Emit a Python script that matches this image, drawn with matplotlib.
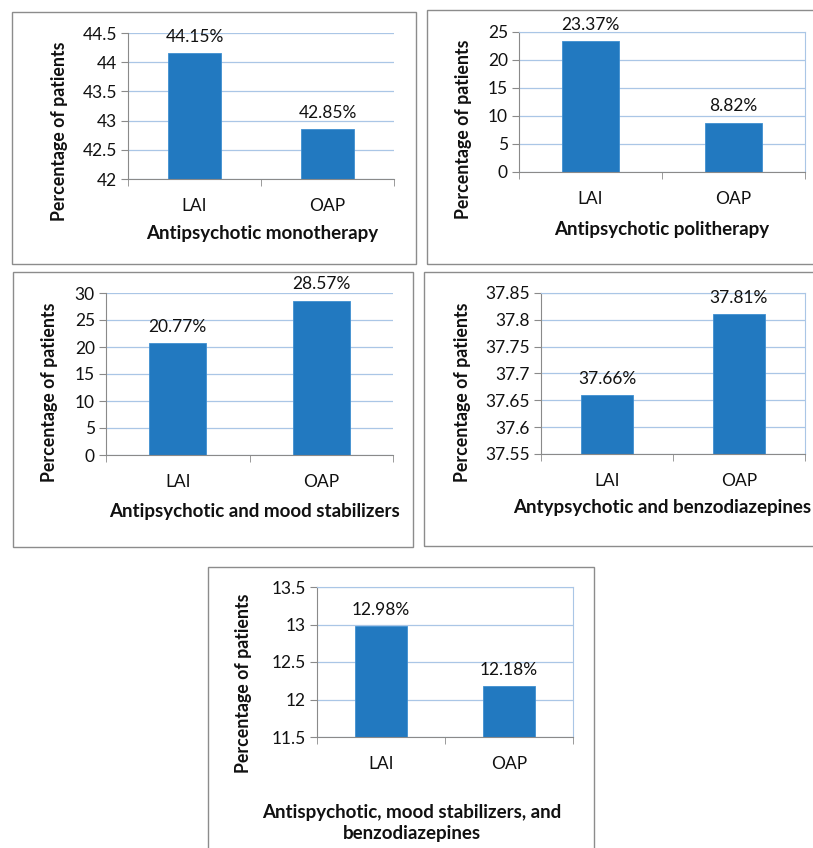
import matplotlib
matplotlib.use("Agg")
import matplotlib.pyplot as plt
from matplotlib.patches import Rectangle
import numpy as np

plt.rcParams['font.family'] = ['Lato', 'DejaVu Sans']

categories = ["LAI", "OAP"]

mono_vals = [44.15, 42.85]
poli_vals = [23.37, 8.82]
mood_vals = [20.77, 28.57]
benzo_vals = [37.66, 37.81]
all3_vals = [12.98, 12.18]

mono_ticks = [42, 42.5, 43, 43.5, 44, 44.5]
poli_ticks = [0, 5, 10, 15, 20, 25]
mood_ticks = [0, 5, 10, 15, 20, 25, 30]
benzo_ticks = [37.55, 37.6, 37.65, 37.7, 37.75, 37.8, 37.85]
all3_ticks = [11.5, 12, 12.5, 13, 13.5]

mono_ticklabels = ["42", "42.5", "43", "43.5", "44", "44.5"]
poli_ticklabels = ["0", "5", "10", "15", "20", "25"]
mood_ticklabels = ["0", "5", "10", "15", "20", "25", "30"]
benzo_ticklabels = ["37.55", "37.6", "37.65", "37.7", "37.75", "37.8", "37.85"]
all3_ticklabels = ["11.5", "12", "12.5", "13", "13.5"]

titles = ["Antipsychotic monotherapy", "Antipsychotic politherapy",
          "Antipsychotic and mood stabilizers", "Antypsychotic and benzodiazepines",
          "Antispychotic, mood stabilizers, and\nbenzodiazepines"]

W, H = 813, 848
fig = plt.figure(figsize=(W / 100, H / 100), dpi=100)

BAR = '#2279c0'
GRID = '#aac6e6'
AXC = '#8a8a8a'
TXT = '#111111'

def fx(x):
    return x / W

def fy(y):
    return 1 - y / H

# panel boxes (pixel coords: left, top, right, bottom)
boxes = [(12, 12, 416, 264), (427, 10, 830, 264), (13, 272, 413, 547),
         (424, 272, 830, 546), (208, 567, 594, 870)]
for l, t, r, b in boxes:
    fig.patches.append(Rectangle((fx(l), fy(b)), fx(r - l), (b - t) / H,
                                 transform=fig.transFigure, fill=False,
                                 edgecolor='#8c8c8c', linewidth=1.0))

panels = [
    dict(vals=mono_vals, ticks=mono_ticks, tl=mono_ticklabels, box=(128, 33, 394, 179),
         right=False, ylab=(60, 131), xlab=(262, 233)),
    dict(vals=poli_vals, ticks=poli_ticks, tl=poli_ticklabels, box=(519, 32, 805, 172),
         right=True, ylab=(463, 129), xlab=(662, 230)),
    dict(vals=mood_vals, ticks=mood_ticks, tl=mood_ticklabels, box=(106, 293, 393, 455),
         right=False, ylab=(50, 392), xlab=(254, 512)),
    dict(vals=benzo_vals, ticks=benzo_ticks, tl=benzo_ticklabels, box=(541, 293, 805, 454),
         right=True, ylab=(462, 392), xlab=(662, 507)),
    dict(vals=all3_vals, ticks=all3_ticks, tl=all3_ticklabels, box=(317, 587, 573, 737),
         right=True, ylab=(243, 683), xlab=(412, 823)),
]

for p, title in zip(panels, titles):
    l, t, r, b = p['box']
    ax = fig.add_axes([fx(l), fy(b), fx(r - l), (b - t) / H])
    x = np.arange(len(categories))
    ax.bar(x, p['vals'], width=0.4, color=BAR, edgecolor='#3f8fd0', linewidth=0.6, zorder=3)
    ax.set_xlim(-0.5, 1.5)
    ax.set_ylim(p['ticks'][0], p['ticks'][-1])
    ax.set_yticks(p['ticks'])
    ax.set_yticklabels(p['tl'], fontsize=12.5, color=TXT)
    ax.set_xticks(x)
    ax.set_xticklabels(categories, fontsize=12.5, color=TXT)
    ax.set_xticks([-0.5, 0.5, 1.5], minor=True)
    ax.tick_params(axis='x', which='major', length=0, pad=14)
    ax.tick_params(axis='x', which='minor', length=5, color=AXC, direction='out')
    ax.tick_params(axis='y', length=5, color=AXC, pad=3)
    ax.yaxis.grid(True, color=GRID, linewidth=0.9, zorder=0)
    ax.set_axisbelow(True)
    ax.spines['top'].set_visible(False)
    ax.spines['left'].set_color(AXC)
    ax.spines['bottom'].set_color(AXC)
    ax.spines['bottom'].set_zorder(4)
    if p['right']:
        ax.spines['right'].set_color(GRID)
        ax.spines['top'].set_visible(True)
        ax.spines['top'].set_color(GRID)
    else:
        ax.spines['right'].set_visible(False)
    for xi, v in zip(x, p['vals']):
        ax.annotate(f"{v:.2f}%", (xi, v), xytext=(0, 6), textcoords='offset points',
                    ha='center', va='bottom', fontsize=12.5, color=TXT, annotation_clip=False)
    yx, yy = p['ylab']
    fig.text(fx(yx), fy(yy), "Percentage of patients", rotation=90, ha='center', va='center',
             fontsize=12.8, fontweight='bold', color=TXT)
    xx, xy = p['xlab']
    fig.text(fx(xx), fy(xy), title, ha='center', va='center', fontsize=13.5,
             fontweight='bold', linespacing=1.3, color=TXT)

fig.savefig("out.png", dpi=100)
